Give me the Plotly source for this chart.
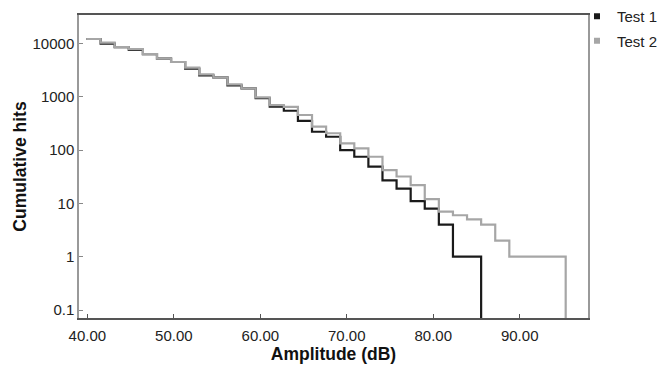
import plotly.graph_objects as go

# Amplitude bin edges (dB)
edges = [39.90, 41.53, 43.16, 44.79, 46.42, 48.05, 49.68, 51.31, 52.94, 54.57,
         56.20, 57.83, 59.46, 61.09, 62.72, 64.35, 65.98, 67.61, 69.24, 70.87,
         72.50, 74.13, 75.76, 77.39, 79.02, 80.65, 82.28, 83.91, 85.54, 87.17,
         88.80, 90.43, 92.06, 93.69, 95.32]

# Cumulative hits per bin
test1 = [12150, 9940, 8590, 7560, 6350, 5190, 4500, 3380, 2530, 2320,
         1640, 1440, 940, 652, 548, 355, 221, 178, 100, 75,
         49, 27, 19, 11, 8, 4, 1, 1]
test2 = [12150, 10350, 8590, 7880, 6350, 5190, 4500, 3520, 2640, 2320,
         1710, 1440, 980, 700, 650, 456, 275, 207, 134, 108,
         75, 42, 32, 22, 12, 7, 6, 5, 4, 2,
         1, 1, 1, 1]

floor_val = 0.01  # below axis range: drop line to the axis

y_ticks = [0.1, 1, 10, 100, 1000, 10000]
y_ticktext = ["0.1", "1", "10", "100", "1000", "10000"]
x_ticks = [40, 50, 60, 70, 80, 90]

black = "#1a1a1a"
gray = "#a6a6a6"

fig = go.Figure()

fig.add_trace(go.Scatter(
    x=edges[:len(test1) + 1], y=test1 + [floor_val],
    mode="lines", line=dict(color=black, width=2.2, shape="hv"),
    showlegend=False, name="Test 1"))
fig.add_trace(go.Scatter(
    x=edges[:len(test2) + 1], y=test2 + [floor_val],
    mode="lines", line=dict(color=gray, width=2.2, shape="hv"),
    showlegend=False, name="Test 2"))

# legend entries (square markers)
fig.add_trace(go.Scatter(x=[None], y=[None], mode="markers", name="Test 1",
                         marker=dict(symbol="square", size=6, color=black),
                         legendgroup="a"))
fig.add_trace(go.Scatter(x=[None], y=[None], mode="markers", name="Test 2",
                         marker=dict(symbol="square", size=6, color=gray),
                         legendgroup="b"))

font_family = "Liberation Sans, Arial, sans-serif"

fig.update_layout(
    template="none",
    width=663, height=365,
    margin=dict(l=79, r=75, t=15, b=47, autoexpand=False),
    paper_bgcolor="white", plot_bgcolor="white",
    font=dict(family=font_family, size=15, color="#222222"),
    legend=dict(xref="container", yref="container",
                x=577 / 663, xanchor="left", y=1.035, yanchor="top",
                font=dict(size=15, color="#222222"),
                tracegroupgap=2, bgcolor="rgba(0,0,0,0)", borderwidth=0),
    xaxis=dict(
        automargin=False,
        range=[39.03, 97.9], tickvals=x_ticks, tickformat=".2f",
        ticks="inside", ticklen=4, tickcolor="#555555",
        showline=True, linecolor="#555555", linewidth=1.5, mirror=True,
        showgrid=False, zeroline=False, ticklabelstandoff=3,
        tickfont=dict(size=15, color="#222222"),
        title=dict(text="<b>Amplitude (dB)</b>", font=dict(size=17.5, color="#111111"),
                   standoff=5),
    ),
    yaxis=dict(
        automargin=False,
        type="log", range=[-1.15, 4.535],
        tickvals=y_ticks, ticktext=y_ticktext,
        ticks="inside", ticklen=4, tickcolor="#888888",
        showline=True, linecolor="#999999", linewidth=1.5, mirror=True,
        showgrid=False, zeroline=False,
        tickfont=dict(size=15, color="#222222"),
        title=dict(text="<b>Cumulative hits</b>", font=dict(size=17.5, color="#111111"),
                   standoff=1),
    ),
)

fig.write_html("out.html")
